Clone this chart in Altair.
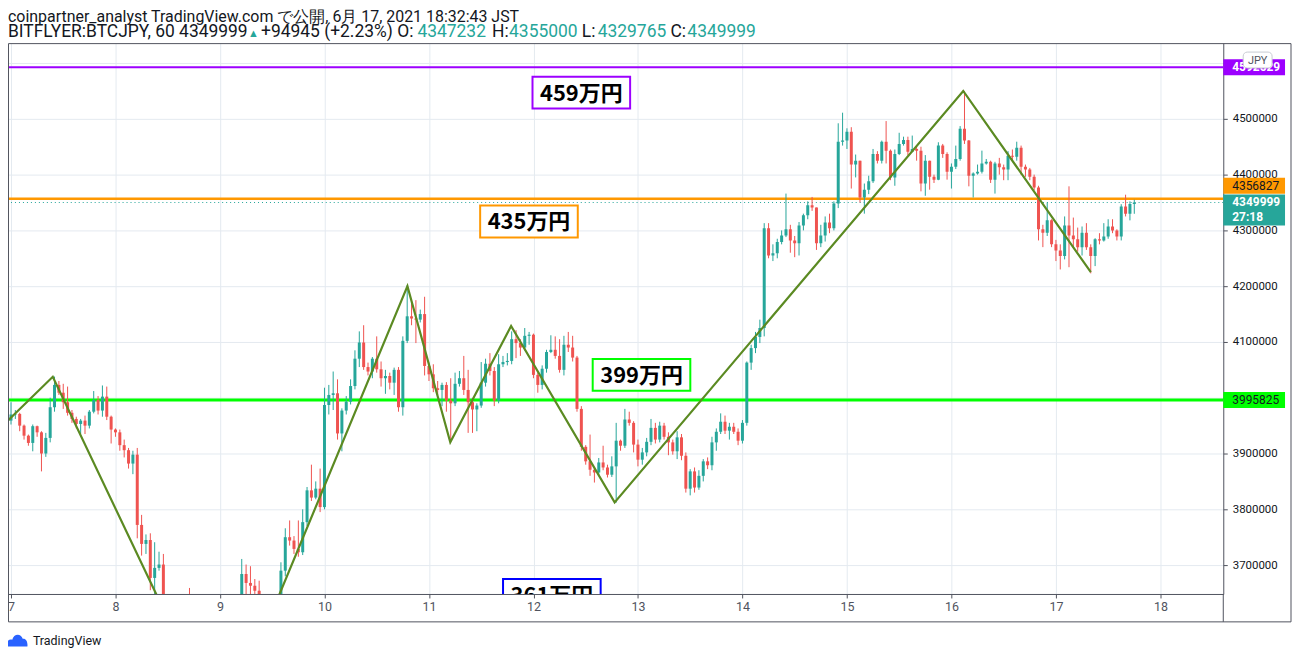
import altair as alt
import pandas as pd

# ---------------- data (prices in thousand JPY) ----------------
first_hour = -1          # hour index of first candle, relative to 7 June 00:00
first_open = 3911.0

closes = [3959,
  3970, 3971, 3950, 3932, 3919, 3949, 3938, 3900, 3928, 3983, 4023, 4009, 3992, 3973, 3962, 3953, 3959, 3950, 3975, 3996, 3977, 4002, 3966, 3943,
  3938, 3915, 3906, 3882, 3898, 3772, 3738, 3745, 3677, 3695, 3701, 3630, 3620, 3600, 3615, 3590, 3605, 3560, 3520, 3470, 3430, 3450, 3420, 3440,
  3470, 3500, 3530, 3560, 3600, 3684, 3668, 3663, 3654, 3625, 3600, 3590, 3605, 3630, 3690, 3750, 3744, 3729, 3723, 3777, 3834, 3821, 3837, 3804,
  3987, 4005, 4008, 3936, 3977, 3993, 4021, 4070, 4099, 4055, 4047, 4070, 4051, 4035, 4039, 4027, 4050, 3983, 4102, 4146, 4142, 4140, 4150, 4057,
  4042, 4017, 4014, 4023, 3995, 3990, 4025, 4035, 4014, 3992, 3979, 3986, 4027, 4061, 4048, 3995, 4060, 4064, 4066, 4105, 4098, 4090, 4111, 4113,
  4041, 4023, 4052, 4082, 4086, 4075, 4050, 4095, 4090, 4072, 3980, 3912, 3886, 3871, 3866, 3884, 3875, 3862, 3877, 3923, 3914, 3961, 3955, 3916,
  3889, 3902, 3921, 3946, 3925, 3950, 3930, 3920, 3904, 3929, 3896, 3837, 3868, 3839, 3860, 3886, 3879, 3920, 3939, 3957, 3941, 3948, 3939, 3923,
  3955, 4063, 4089, 4109, 4125, 4304, 4255, 4259, 4279, 4291, 4302, 4282, 4277, 4309, 4327, 4345, 4341, 4277, 4291, 4314, 4304, 4348, 4459, 4461,
  4477, 4418, 4425, 4359, 4373, 4388, 4437, 4425, 4459, 4443, 4395, 4437, 4455, 4462, 4441, 4446, 4443, 4384, 4425, 4396, 4391, 4452, 4437, 4405,
  4414, 4428, 4482, 4461, 4398, 4402, 4405, 4420, 4423, 4391, 4420, 4413, 4409, 4434, 4432, 4448, 4414, 4409, 4396, 4377, 4302, 4296, 4318, 4275,
  4264, 4254, 4309, 4291, 4284, 4270, 4296, 4270, 4254, 4284, 4282, 4289, 4307, 4300, 4289, 4343, 4330, 4347.232, 4349.999]

highs = [3962,
  3992, 3978, 3973, 3952, 3934, 3952, 3950, 3940, 3937, 4000, 4038, 4030, 4025, 4020, 3978, 3966, 3962, 3968, 3978, 4012, 4003, 4022, 4020, 3968,
  3945, 3943, 3925, 3910, 3905, 3910, 3790, 3755, 3757, 3741, 3724, 3720, 3645, 3635, 3630, 3625, 3620, 3659, 3570, 3530, 3480, 3465, 3460, 3450,
  3480, 3515, 3545, 3575, 3640, 3711, 3701, 3698, 3675, 3672, 3635, 3620, 3625, 3640, 3705, 3766, 3780, 3752, 3780, 3800, 3840, 3880, 3850, 3873,
  4018, 4023, 4047, 4033, 3981, 4003, 4033, 4085, 4119, 4130, 4063, 4073, 4110, 4065, 4050, 4045, 4054, 4055, 4110, 4202, 4172, 4175, 4158, 4181,
  4063, 4060, 4030, 4027, 4028, 4035, 4045, 4048, 4075, 4050, 3995, 3990, 4064, 4070, 4080, 4055, 4078, 4075, 4080, 4119, 4121, 4105, 4125, 4118,
  4115, 4045, 4058, 4086, 4112, 4110, 4105, 4111, 4118, 4111, 4075, 3985, 3915, 3934, 3875, 3892, 3914, 3880, 3895, 3955, 3925, 3980, 3975, 3958,
  3925, 3910, 3928, 3962, 3955, 3957, 3955, 3938, 3925, 3940, 3935, 3902, 3872, 3875, 3870, 3890, 3893, 3930, 3945, 3972, 3968, 3955, 3955, 3945,
  3960, 4065, 4095, 4118, 4140, 4313, 4313, 4275, 4285, 4300, 4366, 4310, 4290, 4315, 4330, 4352, 4360, 4341, 4310, 4325, 4330, 4352, 4492, 4511,
  4483, 4485, 4436, 4425, 4384, 4398, 4446, 4442, 4461, 4496, 4445, 4445, 4475, 4468, 4468, 4470, 4450, 4450, 4435, 4425, 4400, 4458, 4455, 4440,
  4420, 4452, 4487, 4550, 4462, 4404, 4418, 4443, 4428, 4425, 4423, 4430, 4418, 4442, 4445, 4459, 4452, 4418, 4412, 4400, 4380, 4310, 4350, 4320,
  4283, 4275, 4325, 4379, 4323, 4305, 4307, 4313, 4275, 4286, 4295, 4313, 4320, 4320, 4302, 4347, 4364, 4352, 4355]

lows = [3908,
  3952, 3962, 3940, 3925, 3914, 3904, 3930, 3868, 3894, 3920, 3975, 4005, 3980, 3968, 3955, 3945, 3935, 3935, 3945, 3972, 3970, 3966, 3960, 3918,
  3930, 3905, 3893, 3873, 3863, 3748, 3717, 3720, 3655, 3640, 3690, 3610, 3600, 3585, 3590, 3575, 3580, 3545, 3500, 3455, 3415, 3420, 3405, 3400,
  3410, 3460, 3490, 3520, 3550, 3590, 3640, 3635, 3630, 3610, 3580, 3570, 3580, 3595, 3615, 3680, 3735, 3720, 3715, 3718, 3770, 3815, 3818, 3795,
  3800, 3970, 3978, 3925, 3904, 3970, 3988, 4015, 4055, 4050, 4040, 4035, 4045, 4020, 4007, 4015, 4005, 3975, 3968, 4098, 4130, 4098, 4135, 4040,
  4030, 4010, 4005, 3985, 3975, 3922, 3985, 4020, 4005, 3937, 3937, 3940, 3982, 4020, 4040, 3985, 3990, 4055, 4058, 4060, 4071, 4075, 4085, 4095,
  4035, 4009, 4015, 4045, 4080, 4070, 4045, 4040, 4082, 4065, 3975, 3905, 3880, 3860, 3848, 3860, 3870, 3857, 3858, 3812, 3905, 3910, 3950, 3902,
  3877, 3880, 3895, 3915, 3918, 3920, 3925, 3897, 3898, 3890, 3888, 3830, 3825, 3830, 3835, 3850, 3872, 3870, 3905, 3935, 3935, 3925, 3935, 3915,
  3918, 3950, 4050, 4080, 4098, 4110, 4250, 4245, 4250, 4275, 4288, 4260, 4252, 4255, 4300, 4320, 4335, 4265, 4270, 4280, 4295, 4300, 4340, 4452,
  4446, 4375, 4395, 4350, 4330, 4365, 4385, 4420, 4420, 4420, 4390, 4380, 4435, 4452, 4435, 4440, 4425, 4370, 4362, 4373, 4385, 4390, 4430, 4391,
  4375, 4410, 4425, 4455, 4379, 4359, 4400, 4402, 4418, 4385, 4366, 4400, 4390, 4390, 4425, 4425, 4400, 4396, 4390, 4372, 4282, 4270, 4290, 4270,
  4245, 4230, 4248, 4234, 4270, 4262, 4255, 4265, 4223, 4236, 4275, 4280, 4285, 4295, 4282, 4282, 4325, 4318, 4329.765]

# zig-zag trend line (day of June, price in thousand JPY)
zz_day = [6.96, 7.400, 9.02, 10.794, 11.204, 11.786, 12.777, 16.113, 17.334]
zz_price = [3957, 4037.5, 3400, 4200, 3920, 4128.6, 3812.5, 4550, 4225]

# horizontal levels
level_price = [4592529, 4356827, 3995825]
level_color = ["#9c00ff", "#ff9800", "#00ff00"]
level_width = [2, 2.5, 3]
last_price = 4349999

# boxed annotations
ann_text = ["459万円", "435万円", "399万円", "361万円"]
ann_day = [12.458, 11.957, 13.034, 12.176]
ann_price = [4547000, 4316000, 4041000, 3646500]
ann_color = ["#9c00ff", "#ff9800", "#00ff00", "#0000ff"]

day_ticks = list(range(7, 19))
price_ticks = [3700000 + 100000 * i for i in range(10)]
hidden_price_labels = [4600000, 4000000]   # covered by the price tags in the original

# ---------------- build frames ----------------
opens = [first_open] + closes[:-1]
hours = list(range(first_hour, first_hour + len(closes)))
df = pd.DataFrame({
    "day": [7 + h / 24 for h in hours],
    "open": [v * 1000 for v in opens],
    "close": [v * 1000 for v in closes],
    "high": [v * 1000 for v in highs],
    "low": [v * 1000 for v in lows],
})
df["col"] = ["#26a69a" if c >= o else "#ef5350" for o, c in zip(df["open"], df["close"])]

zz = pd.DataFrame({"day": zz_day, "price": [p * 1000 for p in zz_price], "i": range(len(zz_day))})
ann = pd.DataFrame({"day": ann_day, "price": ann_price, "t": ann_text, "c": ann_color})
one = pd.DataFrame({"a": [0]})

W, H = 1220, 553
xsc = alt.Scale(domain=[6.9714, 18.6015], nice=False, zero=False, padding=0)
ysc = alt.Scale(domain=[3648214, 4635714], nice=False, zero=False, padding=0)
GRID = "#e4eaf0"
AX = "#50535e"
FONT = "Roboto"

hide_expr = " || ".join(f"datum.value == {v}" for v in hidden_price_labels)
xaxis = alt.Axis(values=day_ticks, format="d", grid=True, gridColor=GRID, domainColor=AX,
                 tickColor=AX, tickSize=4, labelFontSize=12.5, labelColor=AX, labelFont=FONT,
                 labelPadding=3, labelFlush=False, labelOverlap=False, title=None)
yaxis = alt.Axis(orient="right", values=price_ticks, format="d", grid=True, gridColor=GRID,
                 domainColor=AX, tickColor=AX, tickSize=4, labelFontSize=11.5, labelColor="#131722",
                 labelFont=FONT, labelPadding=5, labelOverlap=False, title=None,
                 labelExpr=f"({hide_expr}) ? '' : datum.label")

def X(field):
    return alt.X(field, type="quantitative", scale=xsc, axis=xaxis)

def Y(field):
    return alt.Y(field, type="quantitative", scale=ysc, axis=yaxis)

base_axes = alt.Chart(df).mark_point(opacity=0, size=1).encode(x=X("day"), y=Y("close"))

wicks = alt.Chart(df).mark_rule(clip=True, strokeWidth=1).encode(
    x=X("day"), y=Y("low"), y2="high:Q", color=alt.Color("col:N", scale=None))
bodies = alt.Chart(df).mark_bar(clip=True, size=3).encode(
    x=X("day"), y=Y("open"), y2="close:Q", color=alt.Color("col:N", scale=None))

levels = []
for p, c, w in zip(level_price, level_color, level_width):
    levels.append(alt.Chart(pd.DataFrame({"price": [p]})).mark_rule(color=c, strokeWidth=w).encode(
        y=Y("price")))
dotted = alt.Chart(pd.DataFrame({"price": [last_price]})).mark_rule(
    color="#26a69a", strokeWidth=1, strokeDash=[1, 3]).encode(y=Y("price"))

zigzag = alt.Chart(zz).mark_line(clip=True, color="#5b8a22", strokeWidth=2.2).encode(
    x=X("day"), y=Y("price"), order="i:Q")

ann_box = alt.Chart(ann).mark_rect(clip=True, fill="white", strokeWidth=2,
                                   xOffset=-49, x2Offset=49, yOffset=-16, y2Offset=16).encode(
    x=X("day"), x2="day:Q", y=Y("price"), y2="price:Q",
    stroke=alt.Color("c:N", scale=None))
ann_txt = alt.Chart(ann).mark_text(clip=True, fontSize=22, fontWeight="bold", font="Noto Sans CJK JP",
                                   color="#000000", baseline="middle", dy=1).encode(
    x=X("day"), y=Y("price"), text="t:N")

# right-hand price tags
def tag(price, fill, top, bottom):
    return alt.Chart(pd.DataFrame({"price": [price]})).mark_rect(
        fill=fill, yOffset=top, y2Offset=bottom).encode(
        x=alt.value(W), x2=alt.value(W + 62), y=Y("price"), y2="price:Q")

def tag_text(price, txt, color, dy, bold=True):
    return alt.Chart(pd.DataFrame({"price": [price]})).mark_text(
        text=txt, color=color, fontSize=12, font=FONT, fontWeight="bold" if bold else "normal",
        align="left", baseline="middle", dy=dy).encode(
        x=alt.value(W + 9), y=Y("price"))

tags = [
    tag(level_price[0], "#9c00ff", -8, 8), tag_text(level_price[0], str(level_price[0]), "white", 0),
    tag(level_price[1], "#ff9800", -21, -5), tag_text(level_price[1], str(level_price[1]), "#131722", -13, False),
    tag(last_price, "#26a69a", -8, 23), tag_text(last_price, str(last_price), "white", 0),
    tag_text(last_price, "27:18", "white", 15),
    tag(level_price[2], "#00ff00", -8, 8), tag_text(level_price[2], str(level_price[2]), "#131722", 0, False),
]

jpy_box = alt.Chart(one).mark_rect(fill="white", stroke="#c8cbd3", strokeWidth=1, cornerRadius=4).encode(
    x=alt.value(W + 20), x2=alt.value(W + 49), y=alt.value(9), y2=alt.value(25))
jpy_txt = alt.Chart(one).mark_text(text="JPY", fontSize=11, font=FONT, color="#50535e",
                                   baseline="middle").encode(x=alt.value(W + 34.5), y=alt.value(17.5))

frame = alt.Chart(one).mark_rect(fillOpacity=0, stroke="#50535e", strokeWidth=1).encode(
    x=alt.value(0.5), x2=alt.value(1288), y=alt.value(0.5), y2=alt.value(581))
axis_ext = alt.Chart(one).mark_rule(color="#50535e", strokeWidth=1).encode(
    x=alt.value(W), y=alt.value(H), y2=alt.value(581))

# header text
hdr1 = alt.Chart(one).mark_text(
    text="coinpartner_analyst TradingView.com で公開, 6月 17, 2021 18:32:43 JST",
    fontSize=16, font=FONT, color="#131722", align="left", baseline="alphabetic").encode(
    x=alt.value(0), y=alt.value(-21))
segments = [
    ("BITFLYER:BTCJPY, 60 4349999", "#131722", 0, 17.5),
    ("▲", "#26a69a", 241, 11),
    ("+94945 (+2.23%) O:", "#131722", 254, 17.5),
    ("4347232", "#26a69a", 411, 17.5),
    ("H:", "#131722", 486, 17.5),
    ("4355000", "#26a69a", 503, 17.5),
    ("L:", "#131722", 576, 17.5),
    ("4329765", "#26a69a", 592, 17.5),
    ("C:", "#131722", 665, 17.5),
    ("4349999", "#26a69a", 682, 17.5),
]
hdr2 = [alt.Chart(one).mark_text(text=t, fontSize=fs, font=FONT, color=c, align="left",
                                 baseline="alphabetic").encode(x=alt.value(px), y=alt.value(-6))
        for t, c, px, fs in segments]

logo_icon = alt.Chart(one).mark_point(
    shape="M-1,0.55 C-1.05,0.05 -0.75,-0.2 -0.45,-0.1 C-0.35,-0.65 0.35,-0.8 0.55,-0.2 C0.85,-0.25 1.05,0.05 1,0.55 Z",
    filled=True, fill="#2962ff", opacity=1, size=440, strokeWidth=0).encode(
    x=alt.value(9), y=alt.value(600))
logo_txt = alt.Chart(one).mark_text(text="TradingView", fontSize=12.5, font=FONT, color="#131722",
                                    align="left", baseline="middle").encode(x=alt.value(25), y=alt.value(600))

chart = alt.layer(
    base_axes, *levels, dotted, wicks, bodies, zigzag, ann_box, ann_txt,
    *tags, jpy_box, jpy_txt, frame, axis_ext, hdr1, *hdr2, logo_icon, logo_txt,
).properties(
    width=W, height=H,
    padding={"left": 0, "top": 34, "right": 70, "bottom": 62},
    autosize=alt.AutoSizeParams(type="none"),
    background="white",
).configure_view(stroke=None)

chart.save("out.html", embed_options={"renderer": "svg", "actions": False})
